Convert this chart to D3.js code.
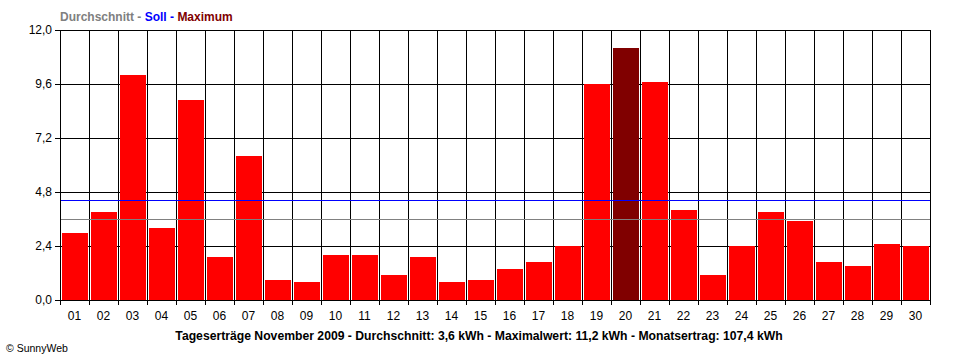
<!DOCTYPE html>
<html><head><meta charset="utf-8">
<script src="https://cdn.jsdelivr.net/npm/d3@7/dist/d3.min.js"></script>
<style>
html,body{margin:0;padding:0;background:#fff;}
svg{display:block;}
text{font-family:"Liberation Sans",Arial,sans-serif;}
</style></head>
<body>
<svg id="c" width="960" height="360"></svg>
<script>
const days = ["01","02","03","04","05","06","07","08","09","10","11","12","13","14","15","16","17","18","19","20","21","22","23","24","25","26","27","28","29","30"];
const yields = [3.0,3.9,10.0,3.2,8.9,1.9,6.4,0.9,0.8,2.0,2.0,1.1,1.9,0.8,0.9,1.4,1.7,2.4,9.6,11.2,9.7,4.0,1.1,2.4,3.9,3.5,1.7,1.5,2.5,2.4];
const average = 3.6;
const target = 4.43;
const yTicks = [0,2.4,4.8,7.2,9.6,12.0];
const yTickLabels = ["0,0","2,4","4,8","7,2","9,6","12,0"];
const legendParts = [["Durchschnitt","#808080"],[" - ","#808080"],["Soll","#0000ff"],[" - ","#0000ff"],["Maximum","#800000"]];
const title = "Tageserträge November 2009 - Durchschnitt: 3,6 kWh - Maximalwert: 11,2 kWh - Monatsertrag: 107,4 kWh";
const copyright = "© SunnyWeb";

const svg = d3.select("#c");
const L=60, R=930, T=30, B=300;
const x = d3.scaleBand().domain(days).range([L,R]).padding(0);
const y = d3.scaleLinear().domain([0,12]).range([B,T]);
const maxV = d3.max(yields);

// horizontal grid
svg.append("g").selectAll("line").data(yTicks).join("line")
  .attr("x1",L).attr("x2",R)
  .attr("y1",d=>Math.round(y(d))+0.5).attr("y2",d=>Math.round(y(d))+0.5)
  .attr("stroke","#000").attr("stroke-width",1).attr("shape-rendering","crispEdges");
// vertical grid at band boundaries
const bounds = days.map(d=>x(d)).concat([R]);
svg.append("g").selectAll("line").data(bounds).join("line")
  .attr("x1",d=>Math.round(d)+0.5).attr("x2",d=>Math.round(d)+0.5)
  .attr("y1",T).attr("y2",B+5)
  .attr("stroke","#000").attr("stroke-width",1).attr("shape-rendering","crispEdges");

// bars
svg.append("g").selectAll("rect").data(yields).join("rect")
  .attr("x",(d,i)=>Math.round(x(days[i]))+2)
  .attr("width",Math.round(x.bandwidth())-3)
  .attr("y",d=>Math.round(y(d)))
  .attr("height",d=>B-Math.round(y(d)))
  .attr("fill",d=>d===maxV?"#800000":"#ff0000")
  .attr("shape-rendering","crispEdges");

// average & target lines
svg.append("line").attr("x1",L).attr("x2",R)
  .attr("y1",Math.round(y(average))+0.5).attr("y2",Math.round(y(average))+0.5)
  .attr("stroke","#808080").attr("shape-rendering","crispEdges");
svg.append("line").attr("x1",L).attr("x2",R)
  .attr("y1",Math.round(y(target))+0.5).attr("y2",Math.round(y(target))+0.5)
  .attr("stroke","#0000ff").attr("shape-rendering","crispEdges");

// axis lines
svg.append("line").attr("x1",L+0.5).attr("x2",L+0.5).attr("y1",T).attr("y2",B+5).attr("stroke","#000").attr("shape-rendering","crispEdges");
svg.append("line").attr("x1",L).attr("x2",R+1).attr("y1",B+0.5).attr("y2",B+0.5).attr("stroke","#000").attr("shape-rendering","crispEdges");

// y ticks
const yg = svg.append("g");
yg.selectAll("line").data(yTicks).join("line")
  .attr("x1",L-5).attr("x2",L)
  .attr("y1",d=>Math.round(y(d))+0.5).attr("y2",d=>Math.round(y(d))+0.5)
  .attr("stroke","#000").attr("shape-rendering","crispEdges");
yg.selectAll("text").data(yTicks).join("text")
  .attr("x",L-8).attr("y",d=>y(d)+4)
  .attr("text-anchor","end").attr("font-size",12).attr("fill","#000")
  .text((d,i)=>yTickLabels[i]);

// x labels
svg.append("g").selectAll("text").data(days).join("text")
  .attr("x",d=>x(d)+x.bandwidth()/2).attr("y",320)
  .attr("text-anchor","middle").attr("font-size",12).attr("fill","#000")
  .text(d=>d);

// legend
const lg = svg.append("text").attr("x",60).attr("y",21).attr("font-size",12).attr("font-weight","bold");
legendParts.forEach(p=>lg.append("tspan").attr("fill",p[1]).attr("xml:space","preserve").text(p[0]));

// title
svg.append("text").attr("x",479).attr("y",340).attr("text-anchor","middle")
  .attr("font-size",12.2).attr("font-weight","bold").attr("fill","#000").text(title);

svg.append("text").attr("x",6).attr("y",352).attr("font-size",10.5).attr("fill","#000").text(copyright);
</script>
</body></html>
